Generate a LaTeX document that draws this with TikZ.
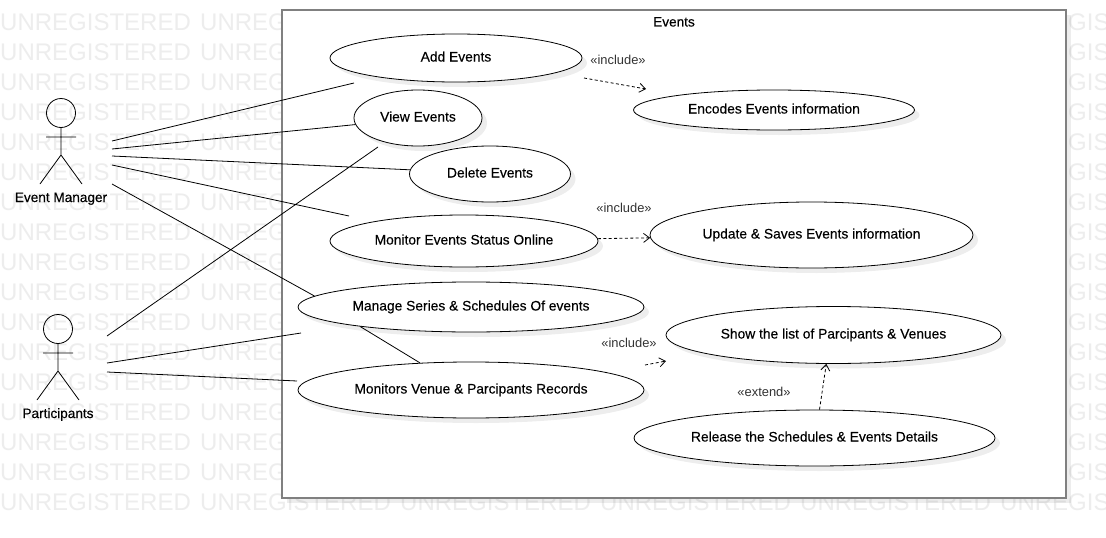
\documentclass[tikz,border=0pt]{standalone}
\usepackage{fontspec}
\setmainfont{Liberation Sans}
\newfontfamily\labelfont[FakeBold=0.25]{Liberation Sans}
\usetikzlibrary{arrows.meta, shapes.geometric, shadows}

\tikzset{
    softshadow/.style={drop shadow={shadow xshift=5pt,shadow yshift=-5pt,fill=black,opacity=.07}},
    usecase/.style={ellipse,draw,line width=.8pt,fill=white,inner sep=0pt,softshadow,text height=9.5pt,text depth=2.5pt,font=\labelfont\fontsize{13.8}{15}\selectfont},
    stereo/.style={inner sep=0pt,text=black!80,font=\fontsize{12.9}{14}\selectfont},
    actorlabel/.style={inner sep=0pt,text height=9.5pt,text depth=2.5pt,font=\labelfont\fontsize{13.6}{15}\selectfont},
    watermark/.style={inner sep=0pt,anchor=west,text=black!7,font=\fontsize{24}{26}\selectfont},
    link/.style={line width=.8pt},
    deplink/.style={line width=.8pt,dash pattern=on 3pt off 2.4pt,-{Straight Barb[length=6pt,width=9pt]}},
}

\begin{document}
\begin{tikzpicture}[x=1pt,y=-1pt]
    \useasboundingbox[fill=white] (0,0) rectangle (1106,538);
    \begin{scope}
    \clip (0,0) rectangle (1106,538);
    \foreach \y in {22,52,...,502}
    {\foreach \x in {0,200,400,600,800,1000}
    {\node[watermark](w\x-\y) at (\x,\y){UNREGISTERED};}}
    \end{scope}

    % system boundary
    \node[draw=black!50,line width=2pt,fill=white,softshadow,minimum width=784pt,minimum height=488pt,inner sep=0pt](events) at (674,254){};
    \node[actorlabel](title) at (674,23){Events};

    % actors
    \foreach \n/\x/\y/\t in {em/61/113/Event Manager,pa/58/329/Participants}{
    \node[circle,draw,line width=.8pt,minimum size=29pt,inner sep=0pt](\n head) at (\x,\y){};
    \coordinate (\n hip) at (\x,\y+42);
    \coordinate (\n arml) at (\x-15,\y+24);
    \coordinate (\n armr) at (\x+15,\y+24);
    \coordinate (\n legl) at (\x-21,\y+71);
    \coordinate (\n legr) at (\x+21,\y+71);
    \draw[link] (\n head.south)--(\n hip) (\n arml)--(\n armr) (\n legl)--(\n hip)--(\n legr);
    \node[actorlabel](\n label) at (\x,\y+85.5){\t};
    }

    % use cases
    \node[usecase,minimum width=252pt,minimum height=48pt](add) at (456,58){Add Events};
    \node[usecase,minimum width=128pt,minimum height=56pt](view) at (418,118){View Events};
    \node[usecase,minimum width=161pt,minimum height=56pt](del) at (490,174){Delete Events};
    \node[usecase,minimum width=268pt,minimum height=52pt](mon) at (464,241){Monitor Events Status Online};
    \node[usecase,minimum width=346pt,minimum height=50pt](mng) at (471,307){Manage Series \& Schedules Of events};
    \node[usecase,minimum width=346pt,minimum height=56pt](mons) at (471,390){Monitors Venue \& Parcipants Records};
    \node[usecase,minimum width=281pt,minimum height=40pt](enc) at (774,110){Encodes Events information};
    \node[usecase,minimum width=323pt,minimum height=66pt](upd) at (811.5,235){Update \& Saves Events information};
    \node[usecase,minimum width=335pt,minimum height=57pt](show) at (833.5,335){Show the list of Parcipants \& Venues};
    \node[usecase,minimum width=361pt,minimum height=56pt](rel) at (814.5,438){Release the Schedules \& Events Details};

    % free line ends
    \coordinate (em1) at (112,141);
    \coordinate (em2) at (112,149);
    \coordinate (em3) at (112,156);
    \coordinate (em4) at (112,165);
    \coordinate (em5) at (112,184);
    \coordinate (pa1) at (107,336);
    \coordinate (pa2) at (107,363);
    \coordinate (pa3) at (107,372);
    \coordinate (addend) at (354,83);
    \coordinate (viewend) at (378,147);
    \coordinate (monend) at (349,216);
    \coordinate (mngend) at (301,333);
    \coordinate (monsend) at (297,381);
    \coordinate (addout) at (584,78);
    \coordinate (encin) at (646,89);
    \coordinate (monsout) at (645,365);
    \coordinate (showin) at (666,361);

    \draw[link] (em1)--(addend) (em2)--(view.186) (em3)--(del.177) (em4)--(monend) (em5)--(mng.176)
    (pa1)--(viewend) (pa2)--(mngend) (pa3)--(monsend) (mng.190)--(mons.152);

    \draw[deplink] (addout)--(encin);
    \draw[deplink] (mon.1)--(upd.181);
    \draw[deplink] (monsout)--(showin);
    \draw[deplink] (rel.80)--(show.256);

    \node[stereo](inc1) at (618,60){«include»};
    \node[stereo](inc2) at (624,208){«include»};
    \node[stereo](inc3) at (629,343){«include»};
    \node[stereo](ext1) at (764,392){«extend»};
\end{tikzpicture}
\end{document}
